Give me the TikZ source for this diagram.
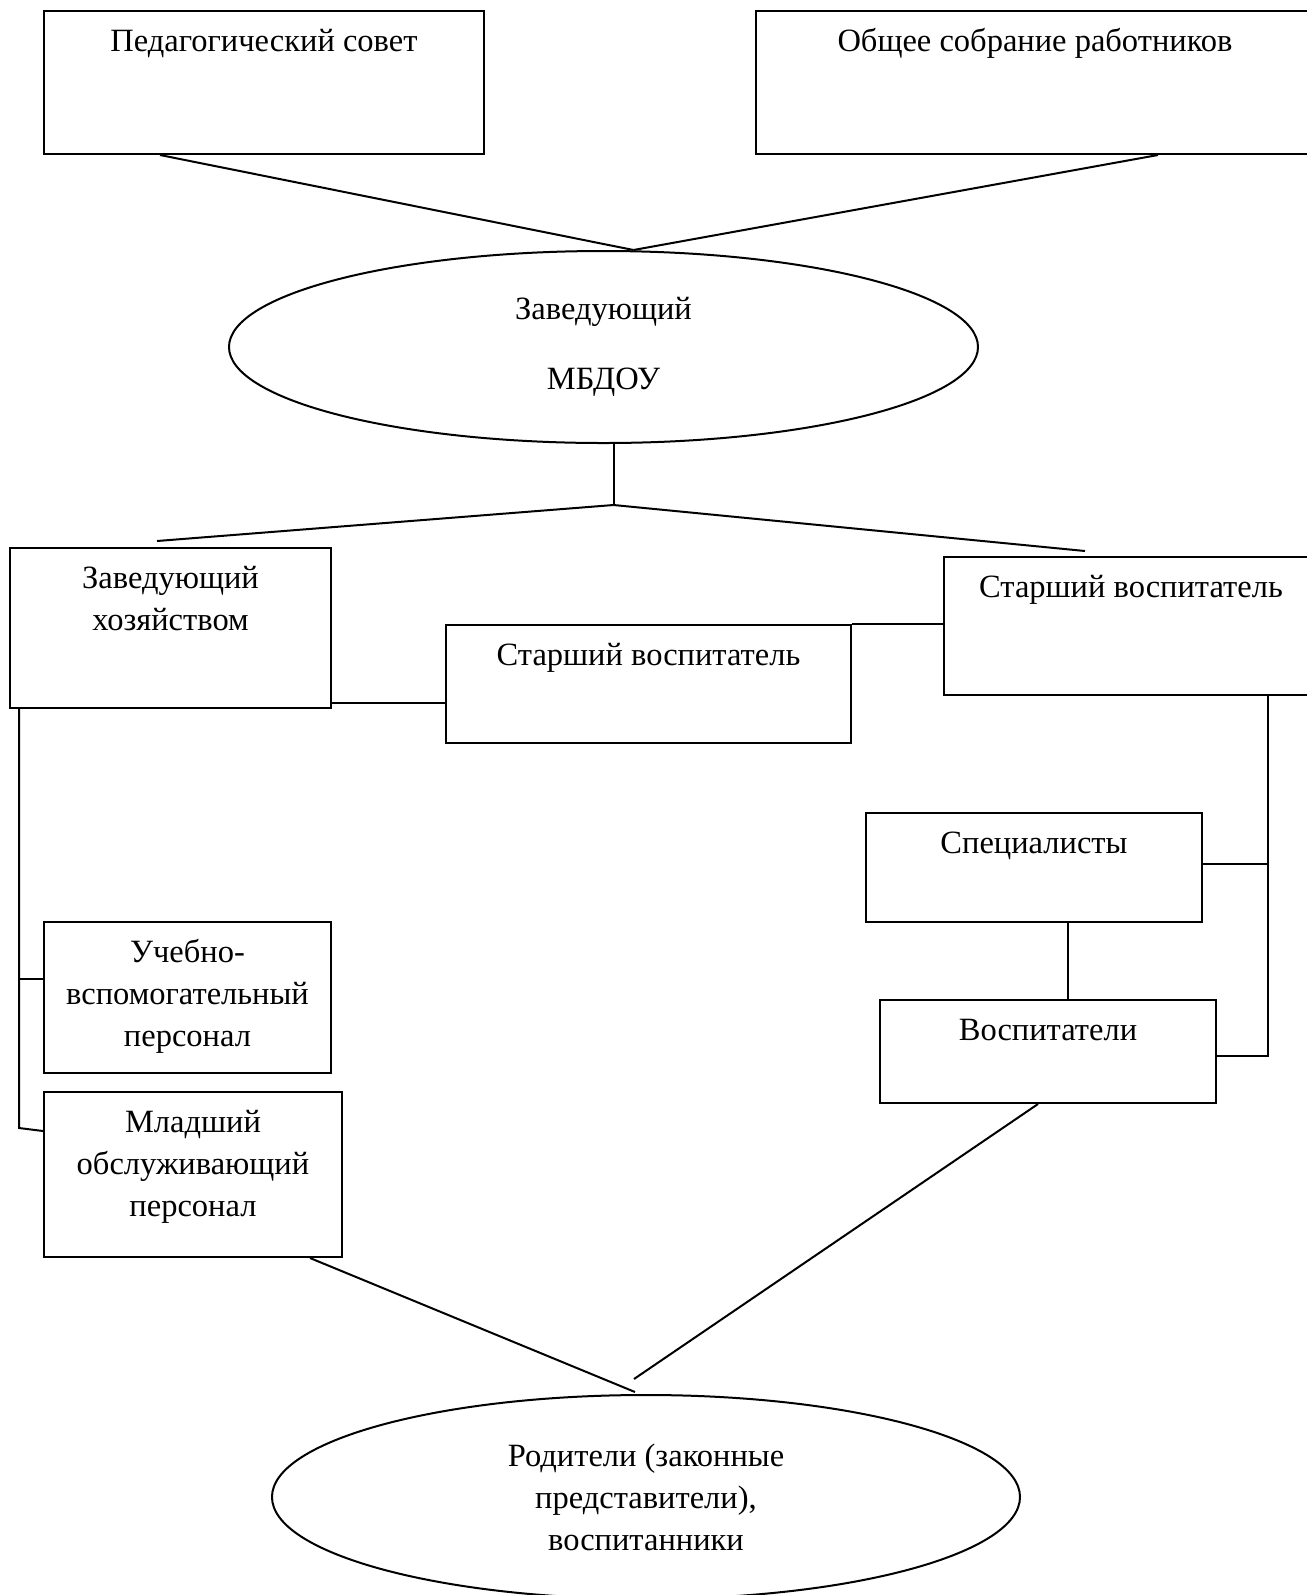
\documentclass[tikz,border=0pt]{standalone}
\usepackage{fontspec}
\setmainfont{Liberation Serif}
\usetikzlibrary{shapes.geometric, calc}

\tikzset{
    % Base styles
    basenode/.style={
        draw, line width=0.8pt, align=center,
        font=\fontsize{13pt}{16.8pt}\selectfont
    },
    % Boxes with the text at the top
    orgbox/.style 2 args={
        basenode, anchor=north west, inner xsep=2pt, inner ysep=0pt,
        minimum width=#1, text height=16pt, text depth=#2
    },
    twolines/.style={text height=32.8pt},
    threelines/.style={text height=49.6pt},
    % Ellipses
    orgellipse/.style={basenode, ellipse, inner sep=0pt},
    % Lines
    link/.style={line width=0.8pt},
}

\begin{document}
\begin{tikzpicture}[x=0.4pt, y=-0.4pt]
\useasboundingbox (0,0) rectangle (1307,1595);
\clip (0,0) rectangle (1307,1595);

% Councils
\node (pedsovet) [orgbox={176pt}{41.2pt}] at (43,10) {Педагогический совет};
\node (sobranie) [orgbox={223.2pt}{41.2pt}] at (755,10) {Общее собрание работников};

% Head
\node (zav) [orgellipse, minimum width=299.6pt, minimum height=76.8pt] at (603.5,347) {Заведующий\\[11.2pt]МБДОУ};

% Second level
\node (hoz) [orgbox={128.4pt}{31.2pt}, twolines] at (9,547) {Заведующий\\хозяйством};
\node (starshiy1) [orgbox={162pt}{31.2pt}] at (445,624) {Старший воспитатель};
\node (starshiy2) [orgbox={149.6pt}{39.2pt}] at (943,556) {Старший воспитатель};

% Staff
\node (uchebno) [orgbox={114.8pt}{10.8pt}, threelines] at (43,921) {Учебно-\\вспомогательный\\персонал};
\node (mladshiy) [orgbox={119.2pt}{16.4pt}, threelines] at (43,1091) {Младший\\обслуживающий\\персонал};
\node (spec) [orgbox={134.4pt}{27.6pt}] at (865,812) {Специалисты};
\node (vospit) [orgbox={134.4pt}{25.2pt}] at (879,999) {Воспитатели};

% Parents
\node (roditeli) [orgellipse, minimum width=299.2pt, minimum height=81.6pt] at (646,1497) {Родители (законные\\представители),\\воспитанники};

% Connectors
\draw[link] ($(pedsovet.south west)+(117,0)$) -- ($(zav.north)+(30,0)$);
\draw[link] ($(sobranie.south west)+(403,0)$) -- ($(zav.north)+(30,0)$);
\coordinate (fork) at ($(zav.south)+(10,61)$);
\draw[link] ($(zav.south)+(10,0)$) -- (fork);
\draw[link] (fork) -- ($(hoz.north west)+(148,-6)$);
\draw[link] (fork) -- ($(starshiy2.north west)+(142,-5)$);
\draw[link] ($(hoz.south east)+(0,-6)$) coordinate (h1) -- (h1 -| starshiy1.west);
\draw[link] (starshiy1.north east) -- (starshiy1.north east -| starshiy2.west);

% Left branch
\coordinate (lbus) at ($(hoz.south west)+(10,0)$);
\draw[link] (lbus) -- ($(lbus |- mladshiy.north)+(0,37)$) -- ($(mladshiy.north west)+(0,40)$);
\draw[link] ($(uchebno.north west)+(0,58)$) coordinate (u1) -- (u1 -| lbus);

% Right branch
\coordinate (rbus) at ($(starshiy2.south west)+(325,0)$);
\draw[link] (rbus) -- ($(rbus |- vospit.north)+(0,57)$) -- ($(vospit.north east)+(0,57)$);
\draw[link] ($(spec.north east)+(0,52)$) coordinate (s1) -- (s1 -| rbus);
\draw[link] ($(spec.south west)+(203,0)$) coordinate (s2) -- (s2 |- vospit.north);

% To parents
\draw[link] ($(vospit.south west)+(159,0)$) -- ($(roditeli.north)+(-12,-15)$);
\draw[link] ($(mladshiy.south west)+(267,0)$) -- ($(roditeli.north)+(-11,-2)$);

\end{tikzpicture}
\end{document}
